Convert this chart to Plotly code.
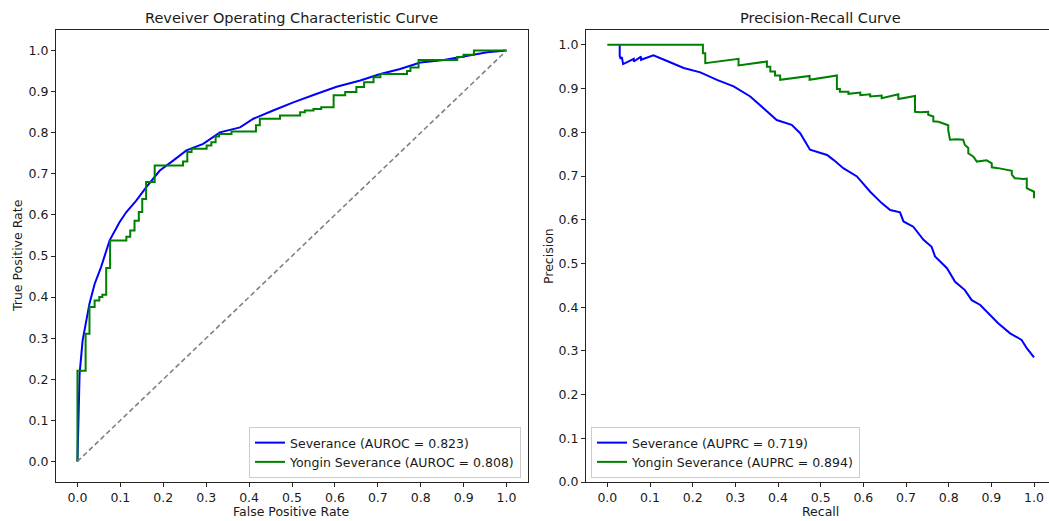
import plotly.graph_objects as go

W, H = 1049, 521

# ---------------- data ----------------
series_names = ["Severance", "Yongin Severance"]
roc_labels = ["Severance (AUROC = 0.823)", "Yongin Severance (AUROC = 0.808)"]
pr_labels = ["Severance (AUPRC = 0.719)", "Yongin Severance (AUPRC = 0.894)"]

roc_sev_fpr = [0, 0.001, 0.002, 0.005, 0.012, 0.02, 0.028, 0.04, 0.055, 0.075, 0.083, 0.098,
               0.114, 0.137, 0.16, 0.192, 0.223, 0.254, 0.293, 0.332, 0.379, 0.41, 0.456,
               0.503, 0.558, 0.604, 0.659, 0.706, 0.752, 0.799, 0.854, 0.893, 0.955, 1.0]
roc_sev_tpr = [0, 0.06, 0.12, 0.213, 0.294, 0.343, 0.384, 0.432, 0.473, 0.538, 0.554, 0.582,
               0.607, 0.635, 0.667, 0.708, 0.732, 0.757, 0.773, 0.801, 0.813, 0.834, 0.854,
               0.874, 0.895, 0.912, 0.927, 0.943, 0.955, 0.971, 0.977, 0.984, 0.996, 1.0]

roc_yon_fpr = [0, 0, 0.019, 0.028, 0.040, 0.051, 0.058, 0.067, 0.076, 0.114, 0.123, 0.133,
               0.143, 0.151, 0.160, 0.180, 0.246, 0.256, 0.266, 0.301, 0.312, 0.322, 0.330,
               0.359, 0.416, 0.425, 0.472, 0.519, 0.530, 0.550, 0.568, 0.597, 0.624, 0.650,
               0.668, 0.690, 0.706, 0.768, 0.776, 0.795, 0.885, 0.900, 0.924, 1.0]
roc_yon_tpr = [0, 0.221, 0.311, 0.376, 0.392, 0.400, 0.406, 0.471, 0.538, 0.547, 0.562, 0.586,
               0.607, 0.639, 0.680, 0.720, 0.730, 0.753, 0.761, 0.769, 0.777, 0.791, 0.797,
               0.803, 0.818, 0.834, 0.842, 0.850, 0.854, 0.858, 0.862, 0.891, 0.899, 0.911,
               0.923, 0.935, 0.943, 0.950, 0.959, 0.977, 0.984, 0.990, 1.0, 1.0]

chance_x = [0, 1]
chance_y = [0, 1]

pr_sev_recall = [0.029, 0.029, 0.031, 0.034, 0.037, 0.062, 0.062, 0.079, 0.079, 0.108, 0.14,
                 0.179, 0.218, 0.257, 0.296, 0.335, 0.366, 0.397, 0.432, 0.452, 0.475, 0.515,
                 0.530, 0.553, 0.585, 0.616, 0.643, 0.663, 0.686, 0.694, 0.717, 0.741, 0.760,
                 0.768, 0.796, 0.815, 0.838, 0.854, 0.874, 0.897, 0.916, 0.944, 0.971, 0.983, 1.0]
pr_sev_precision = [1.0, 0.975, 0.968, 0.972, 0.956, 0.968, 0.962, 0.973, 0.966, 0.976, 0.963,
                    0.947, 0.937, 0.920, 0.905, 0.882, 0.855, 0.828, 0.817, 0.798, 0.760, 0.748,
                    0.737, 0.718, 0.699, 0.664, 0.638, 0.622, 0.617, 0.596, 0.584, 0.554, 0.538,
                    0.516, 0.489, 0.458, 0.439, 0.416, 0.405, 0.382, 0.363, 0.340, 0.325, 0.306, 0.285]

pr_yon_recall = [0, 0.224, 0.224, 0.2295, 0.2295, 0.3075, 0.3075, 0.374, 0.374, 0.382, 0.382,
                 0.393, 0.393, 0.405, 0.405, 0.474, 0.474, 0.538, 0.538, 0.545, 0.545, 0.565,
                 0.565, 0.593, 0.593, 0.616, 0.616, 0.643, 0.643, 0.682, 0.682, 0.721, 0.721,
                 0.733, 0.752, 0.752, 0.764, 0.764, 0.776, 0.788, 0.799, 0.799, 0.803, 0.819,
                 0.834, 0.838, 0.846, 0.846, 0.858, 0.866, 0.889, 0.901, 0.901, 0.916, 0.928,
                 0.948, 0.948, 0.955, 0.975, 0.983, 0.983, 0.998, 1.0, 1.0]
pr_yon_precision = [1.0, 1.0, 0.981, 0.981, 0.958, 0.968, 0.953, 0.962, 0.950, 0.950, 0.939,
                    0.939, 0.930, 0.930, 0.920, 0.929, 0.920, 0.930, 0.899, 0.899, 0.893, 0.893,
                    0.888, 0.891, 0.885, 0.887, 0.882, 0.884, 0.878, 0.887, 0.876, 0.883, 0.847,
                    0.846, 0.847, 0.840, 0.836, 0.825, 0.824, 0.819, 0.816, 0.805, 0.783, 0.784,
                    0.783, 0.771, 0.764, 0.752, 0.744, 0.733, 0.736, 0.729, 0.720, 0.718, 0.716,
                    0.712, 0.703, 0.695, 0.693, 0.694, 0.672, 0.664, 0.664, 0.649]

tick_vals = [0.0, 0.1, 0.2, 0.3, 0.4, 0.5, 0.6, 0.7, 0.8, 0.9, 1.0]
tick_text = ["0.0", "0.1", "0.2", "0.3", "0.4", "0.5", "0.6", "0.7", "0.8", "0.9", "1.0"]

# ---------------- styles ----------------
FONT = "DejaVu Sans"
BLUE = "#0000ff"
GREEN = "#008000"
AX = "#262626"

fig = go.Figure()

fig.add_trace(go.Scatter(x=roc_sev_fpr, y=roc_sev_tpr, mode="lines", name=roc_labels[0],
                         line=dict(color=BLUE, width=2), xaxis="x", yaxis="y", legend="legend"))
fig.add_trace(go.Scatter(x=roc_yon_fpr, y=roc_yon_tpr, mode="lines", name=roc_labels[1],
                         line=dict(color=GREEN, width=2, shape="hv"), xaxis="x", yaxis="y",
                         legend="legend"))
fig.add_trace(go.Scatter(x=chance_x, y=chance_y, mode="lines", showlegend=False,
                         line=dict(color="#808080", width=1.6, dash="5px,3px"), xaxis="x", yaxis="y"))

fig.add_trace(go.Scatter(x=pr_sev_recall, y=pr_sev_precision, mode="lines", name=pr_labels[0],
                         line=dict(color=BLUE, width=2), xaxis="x2", yaxis="y2", legend="legend2"))
fig.add_trace(go.Scatter(x=pr_yon_recall, y=pr_yon_precision, mode="lines", name=pr_labels[1],
                         line=dict(color=GREEN, width=2), xaxis="x2", yaxis="y2", legend="legend2"))

def px_x(p):
    return p / W

def px_y(p):
    return (H - p) / H

axis_common = dict(showgrid=False, zeroline=False, showline=True, linecolor=AX, linewidth=1,
                   ticks="outside", ticklen=4, tickwidth=1, tickcolor=AX,
                   tickvals=tick_vals, ticktext=tick_text,
                   tickfont=dict(family=FONT, size=12.5, color="#1a1a1a"))

x_left0, x_left1 = 56, 528
x_right0 = 586
y_top, y_bot = 30, 482

fig.update_layout(
    width=W, height=H,
    margin=dict(l=0, r=0, t=0, b=0, autoexpand=False),
    paper_bgcolor="white", plot_bgcolor="white",
    font=dict(family=FONT, color="#1a1a1a"),
    xaxis=dict(domain=[px_x(x_left0), px_x(x_left1)], range=[-0.05, 1.05], mirror=True,
               anchor="y", **axis_common),
    yaxis=dict(domain=[px_y(y_bot), px_y(y_top)], range=[-0.05, 1.05], mirror=True,
               anchor="x", **axis_common),
    xaxis2=dict(domain=[px_x(x_right0), 1.0], range=[-0.05, (W - 607) / 427.0], mirror=True,
                anchor="y2", **axis_common),
    yaxis2=dict(domain=[px_y(y_bot), px_y(y_top)], range=[0.0, 1.034], mirror=False,
                anchor="x2", **axis_common),
    legend=dict(x=px_x(521), y=px_y(478), xanchor="right", yanchor="bottom",
                bgcolor="rgba(255,255,255,0.85)", bordercolor="#cccccc", borderwidth=1,
                font=dict(family=FONT, size=12.5, color="#1a1a1a"),
                itemwidth=30, tracegroupgap=0),
    legend2=dict(x=px_x(591), y=px_y(478), xanchor="left", yanchor="bottom",
                 bgcolor="rgba(255,255,255,0.85)", bordercolor="#cccccc", borderwidth=1,
                 font=dict(family=FONT, size=12.5, color="#1a1a1a"),
                 itemwidth=30, tracegroupgap=0),
    showlegend=True,
)

ann_font = dict(family=FONT, size=12.5, color="#1a1a1a")
title_font = dict(family=FONT, size=14.5, color="#1a1a1a")
fig.add_annotation(text="Reveiver Operating Characteristic Curve", x=px_x(291), y=px_y(18),
                   xref="paper", yref="paper", showarrow=False, font=title_font,
                   xanchor="center", yanchor="middle")
fig.add_annotation(text="Precision-Recall Curve", x=px_x(820), y=px_y(18),
                   xref="paper", yref="paper", showarrow=False, font=title_font,
                   xanchor="center", yanchor="middle")
fig.add_annotation(text="False Positive Rate", x=px_x(291), y=px_y(511),
                   xref="paper", yref="paper", showarrow=False, font=ann_font,
                   xanchor="center", yanchor="middle")
fig.add_annotation(text="Recall", x=px_x(820), y=px_y(511),
                   xref="paper", yref="paper", showarrow=False, font=ann_font,
                   xanchor="center", yanchor="middle")
fig.add_annotation(text="True Positive Rate", x=px_x(17), y=px_y(256), textangle=-90,
                   xref="paper", yref="paper", showarrow=False, font=ann_font,
                   xanchor="center", yanchor="middle")
fig.add_annotation(text="Precision", x=px_x(548), y=px_y(256), textangle=-90,
                   xref="paper", yref="paper", showarrow=False, font=ann_font,
                   xanchor="center", yanchor="middle")

fig.write_html("out.html",
               config={"displayModeBar": False},
               post_script="document.body.style.margin='0';document.body.style.overflow='hidden';")
